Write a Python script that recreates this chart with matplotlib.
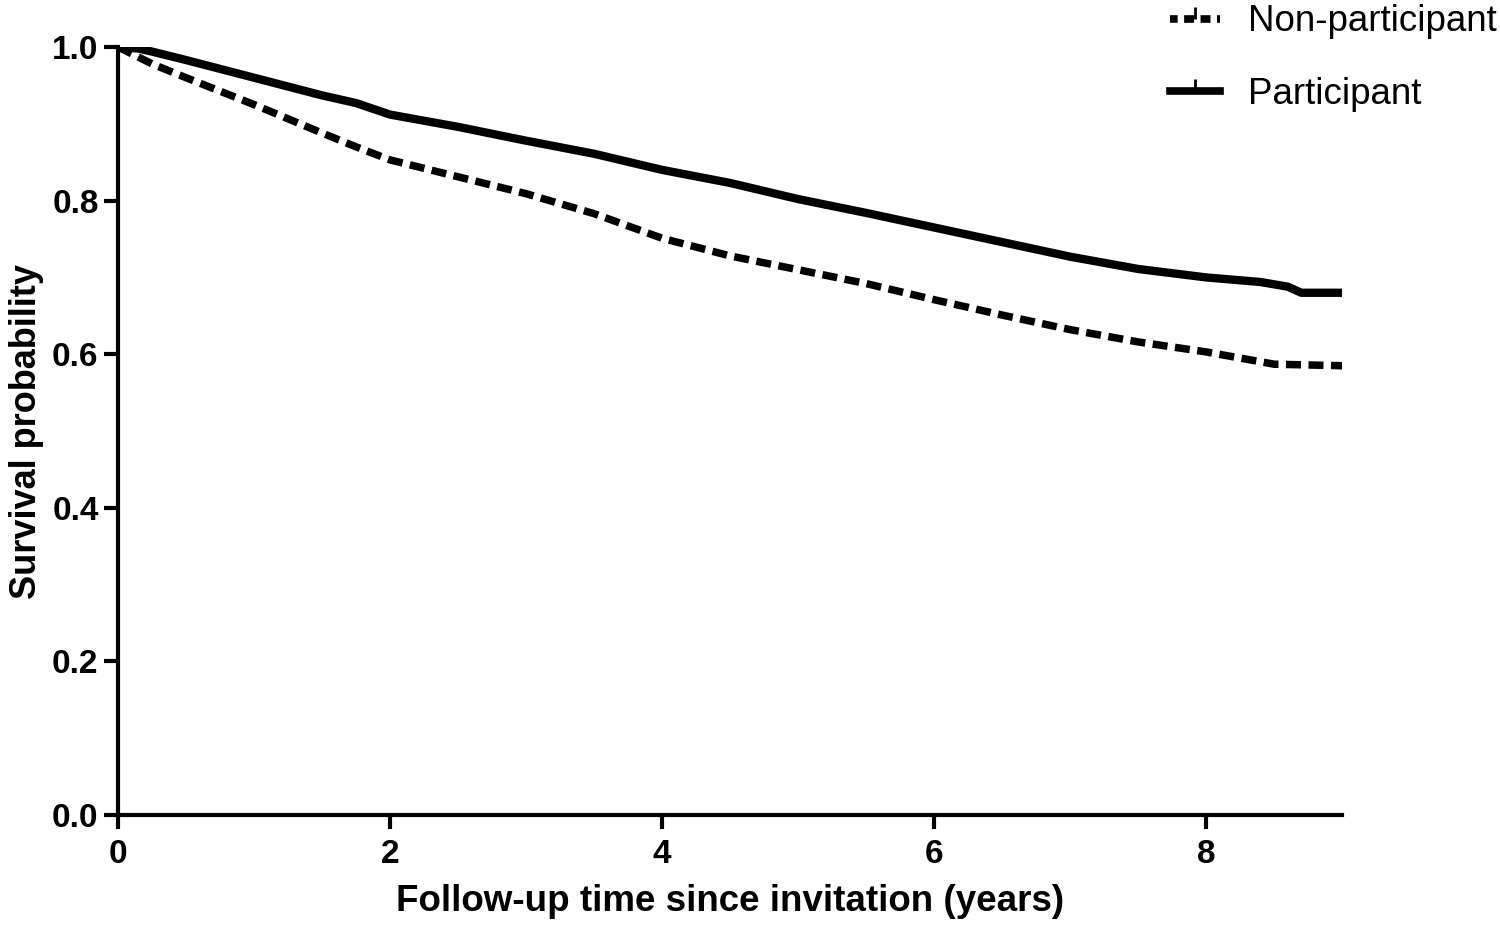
import matplotlib
matplotlib.use("Agg")
import matplotlib.pyplot as plt
from matplotlib.lines import Line2D
from matplotlib.path import Path

# survival curves
t_part = [0, 0.15, 0.25, 0.5, 1.0, 1.5, 1.75, 2.0, 2.5, 3.0, 3.5, 4.0, 4.5, 5.0,
          5.5, 6.0, 6.5, 7.0, 7.5, 8.0, 8.4, 8.6, 8.7, 9.0]
s_part = [1.0, 0.998, 0.994, 0.983, 0.960, 0.937, 0.927, 0.912, 0.896, 0.878,
          0.861, 0.840, 0.823, 0.802, 0.784, 0.765, 0.746, 0.727, 0.711, 0.700,
          0.694, 0.688, 0.680, 0.680]

t_non = [0, 0.25, 0.5, 1.0, 1.5, 1.75, 2.0, 2.5, 3.0, 3.5, 4.0, 4.5, 5.0, 5.5,
         6.0, 6.5, 7.0, 7.5, 8.0, 8.5, 9.0]
s_non = [1.0, 0.978, 0.960, 0.925, 0.888, 0.870, 0.853, 0.831, 0.809, 0.783,
         0.751, 0.728, 0.710, 0.692, 0.671, 0.651, 0.632, 0.616, 0.603, 0.587,
         0.585]

xticks = [0, 2, 4, 6, 8]
yticks = [0.0, 0.2, 0.4, 0.6, 0.8, 1.0]

plt.rcParams['font.family'] = ['Liberation Sans', 'DejaVu Sans']

fig = plt.figure(figsize=(15, 9.27), dpi=100)
ax = fig.add_axes([0.0787, 0.1208, 0.816, 0.8285])

ax.plot(t_non, s_non, color='black', lw=5.4, ls=(0, (2.0, 1.0)),
        solid_capstyle='butt', dash_capstyle='butt')
ax.plot(t_part, s_part, color='black', lw=6.0, solid_capstyle='butt')

ax.set_xlim(0, 9)
ax.set_ylim(0, 1)
ax.set_xticks(xticks)
ax.set_xticklabels([str(v) for v in xticks])
ax.set_yticks(yticks)
ax.set_yticklabels(['%.1f' % v for v in yticks])
for sp in ['top', 'right']:
    ax.spines[sp].set_visible(False)
for sp in ['left', 'bottom']:
    ax.spines[sp].set_linewidth(3)
ax.tick_params(width=3, length=10, direction='out', labelsize=24)
ax.tick_params(axis='x', pad=7)
ax.tick_params(axis='y', pad=4)
for lab in ax.get_xticklabels() + ax.get_yticklabels():
    lab.set_fontweight('bold')

ax.set_xlabel('Follow-up time since invitation (years)', fontsize=26.5,
              fontweight='bold', labelpad=10)
ax.set_ylabel('Survival probability', fontsize=26, fontweight='bold', labelpad=6)

# censor tick marker (vertical stub above the line)
tick = Path([(0, 0), (0, 1)], [Path.MOVETO, Path.LINETO])
h_non = Line2D([], [], color='black', lw=5.5, ls=(0.3, (1.3, 0.85)),
               marker=tick, markersize=18, markeredgewidth=2)
h_part = Line2D([], [], color='black', lw=5.5, marker=tick, markersize=18,
                markeredgewidth=2)
fig.legend([h_non, h_part], ['Non-participant', 'Participant'],
           loc='upper right', bbox_to_anchor=(1.02, 1.031), frameon=False,
           fontsize=26.5, handlelength=1.36, handletextpad=0.77, labelspacing=1.02,
           numpoints=1)

fig.savefig('out.png', dpi=100)
